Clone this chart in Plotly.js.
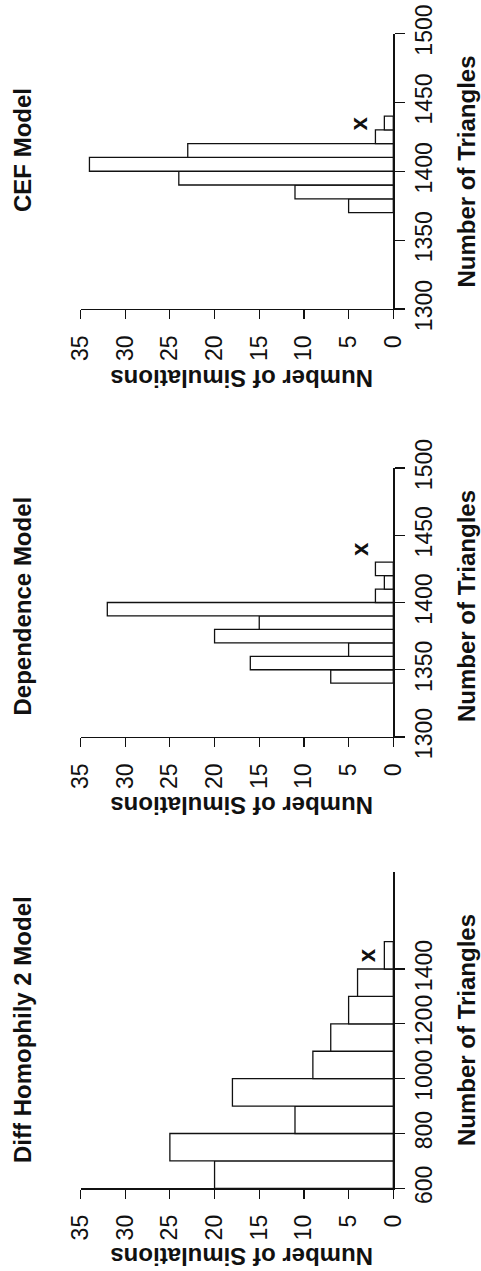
<!DOCTYPE html>
<html><head><meta charset="utf-8">
<script src="https://cdn.plot.ly/plotly-3.0.1.min.js"></script>
<style>html,body{margin:0;padding:0;background:#fff}#chart{width:481px;height:1271px}</style>
</head><body><div id="chart"></div>
<script>
// ---------- data ----------
const countTicks = [0, 5, 10, 15, 20, 25, 30, 35];
const panelTitles = ["Diff Homophily 2 Model", "Dependence Model", "CEF Model"];

// Panel 1: Diff Homophily 2 Model (bins of 100)
const diffBinStarts = [600, 700, 800, 900, 1000, 1100, 1200, 1300, 1400];
const diffCounts = [20, 25, 11, 18, 9, 7, 5, 4, 1];
const diffTicks = [600, 800, 1000, 1200, 1400];

// Panel 2: Dependence Model (bins of 10)
const depBinStarts = [1340, 1350, 1360, 1370, 1380, 1390, 1400, 1410, 1420];
const depCounts = [7, 16, 5, 20, 15, 32, 2, 1, 2];

// Panel 3: CEF Model (bins of 10)
const cefBinStarts = [1370, 1380, 1390, 1400, 1410, 1420, 1430];
const cefCounts = [5, 11, 24, 34, 23, 2, 1];

const triTicks = [1300, 1350, 1400, 1450, 1500];

// observed value marker "x" (triangles, count height) per panel
const observedTriangles = [1452, 1440, 1435];
const observedMarkCount = [3.0, 3.8, 3.9];

// ---------- layout helpers ----------
const W = 481, H = 1271;
const px = v => v / W;
const py = v => 1 - v / H;
const FONT = "Liberation Sans, Arial, Helvetica, sans-serif";

const panels = [
  {starts: diffBinStarts, counts: diffCounts, bw: 100, ticks: diffTicks, range: [600, 1755], top: 871.7, bottom: 1188.3, titleY: 1030, triLabelY: 1030, simY: 1257},
  {starts: depBinStarts, counts: depCounts, bw: 10, ticks: triTicks, range: [1300, 1500], top: 468, bottom: 737, titleY: 606.5, triLabelY: 606, simY: 805},
  {starts: cefBinStarts, counts: cefCounts, bw: 10, ticks: triTicks, range: [1300, 1500], top: 33.5, bottom: 309, titleY: 150, triLabelY: 171.5, simY: 378}
];

const xDom = [px(80.5), px(393.3)];
const data = [];
const layout = {
  width: W, height: H,
  margin: {l: 0, r: 0, t: 0, b: 0},
  paper_bgcolor: "#fff", plot_bgcolor: "#fff",
  showlegend: false,
  font: {family: FONT, color: "#000"},
  annotations: []
};

panels.forEach((p, i) => {
  const sx = i === 0 ? "" : String(i + 1);
  data.push({
    type: "bar", orientation: "h",
    x: p.counts,
    y: p.starts.map(s => s + p.bw / 2),
    width: p.starts.map(() => p.bw),
    marker: {color: "#fff", line: {color: "#111", width: 1.3}},
    xaxis: "x" + sx, yaxis: "y" + sx,
    hoverinfo: "skip"
  });
  layout["xaxis" + sx] = {
    domain: xDom, range: [35, 0], anchor: "y" + sx,
    tickmode: "array", tickvals: countTicks,
    ticks: "outside", ticklen: 9, tickwidth: 1.2, tickcolor: "#111",
    ticklabelstandoff: 7,
    tickangle: -90, tickfont: {size: 23, family: FONT, color: "#111"},
    showline: true, linecolor: "#111", linewidth: 1.3,
    showgrid: false, zeroline: false, fixedrange: true
  };
  layout["yaxis" + sx] = {
    domain: [py(p.bottom), py(p.top)], range: p.range, anchor: "x" + sx,
    side: "right",
    tickmode: "array", tickvals: p.ticks,
    ticks: "outside", ticklen: 10, tickwidth: 1.2, tickcolor: "#111",
    tickangle: -90, tickfont: {size: 23, family: FONT, color: "#111"},
    showline: true, linecolor: "#111", linewidth: 1.3,
    showgrid: false, zeroline: false, fixedrange: true
  };
  // panel title
  layout.annotations.push({
    xref: "paper", yref: "paper", x: px(22), y: py(p.titleY),
    text: "<b>" + panelTitles[i] + "</b>", textangle: -90, showarrow: false,
    xanchor: "center", yanchor: "middle", font: {size: 24, family: FONT, color: "#111"}
  });
  // x-label (Number of Triangles)
  layout.annotations.push({
    xref: "paper", yref: "paper", x: px(466), y: py(p.triLabelY),
    text: "<b>Number of Triangles</b>", textangle: -90, showarrow: false,
    xanchor: "center", yanchor: "middle", font: {size: 24, family: FONT, color: "#111"}
  });
  // y-label (Number of Simulations), upside down
  layout.annotations.push({
    xref: "paper", yref: "paper", x: px(242), y: py(p.simY),
    text: "<b>Number of Simulations</b>", textangle: 180, showarrow: false,
    xanchor: "center", yanchor: "middle", font: {size: 24, family: FONT, color: "#111"}
  });
  // observed value marker
  layout.annotations.push({
    xref: "x" + sx, yref: "y" + sx, x: observedMarkCount[i], y: observedTriangles[i],
    text: "<b>x</b>", textangle: -90, showarrow: false,
    xanchor: "center", yanchor: "middle", font: {size: 24, family: FONT, color: "#111"}
  });
});

Plotly.newPlot("chart", data, layout, {staticPlot: true, displayModeBar: false});
</script>
</body></html>
